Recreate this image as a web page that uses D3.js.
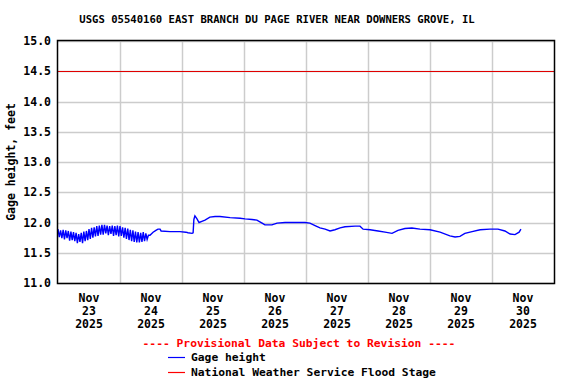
<!DOCTYPE html>
<html>
<head>
<meta charset="utf-8">
<script src="https://cdn.jsdelivr.net/npm/d3@7"></script>
<style>
  body { margin: 0; background: #fff; }
  text { font-family: "DejaVu Sans Mono", monospace; font-weight: bold; fill: #000; }
</style>
</head>
<body>
<div id="chart"></div>
<script>
// hours since Nov 23 2025 00:00, gage height in feet
const gageHours = [
  0, 0.5, 1, 1.5, 2, 2.5, 3, 3.5, 4, 4.5, 5, 5.5, 6, 6.5, 7, 7.5, 8, 8.5, 9, 9.5,
  10, 10.5, 11, 11.5, 12, 12.5, 13, 13.5, 14, 14.5, 15, 15.5, 16, 16.5, 17, 17.5,
  18, 18.5, 19, 19.5, 20, 20.5, 21, 21.5, 22, 22.5, 23, 23.5, 24, 24.5, 25, 25.5,
  26, 26.5, 27, 27.5, 28, 28.5, 29, 29.5, 30, 30.5, 31, 31.5, 32, 32.5, 33, 33.5,
  34, 34.5, 35,
  35.6, 36.8, 37.9, 38.7, 39.5, 39.9, 43.4, 47.2, 49.5, 50.3, 51.9, 52.3, 52.6, 53.0,
  53.8, 54.6, 55.7, 56.9, 58.8, 60.8, 62.7, 66.6, 70.5, 72.4, 75.1, 77.0, 79.0, 80.1,
  82.8, 84.8, 87.9, 91.7, 95.6, 97.5, 99.5, 101.4, 103.4, 105.3, 107.2, 109.2, 111.1,
  115.0, 116.9, 118.1, 120.8, 123.9, 126.6, 129.3, 131.6, 134.3, 137.0, 140.1, 144.0,
  147.9, 151.7, 153.7, 155.6, 157.5, 160.3, 163.4, 167.2, 170.3, 173.0, 175.0, 176.9,
  178.5, 179.2
];
const gageFeet = [
  11.89, 11.76, 11.87, 11.74, 11.88, 11.72, 11.87, 11.74, 11.86, 11.70, 11.85, 11.71,
  11.84, 11.69, 11.83, 11.66, 11.81, 11.68, 11.83, 11.66, 11.85, 11.69, 11.86, 11.71,
  11.89, 11.73, 11.91, 11.75, 11.92, 11.77, 11.94, 11.78, 11.95, 11.80, 11.96, 11.80,
  11.96, 11.82, 11.95, 11.79, 11.94, 11.81, 11.95, 11.78, 11.94, 11.79, 11.95, 11.77,
  11.94, 11.78, 11.92, 11.75, 11.91, 11.73, 11.90, 11.71, 11.88, 11.69, 11.87, 11.68,
  11.85, 11.67, 11.84, 11.67, 11.83, 11.68, 11.84, 11.69, 11.82, 11.72, 11.79,
  11.79, 11.84, 11.87, 11.89, 11.89, 11.86, 11.85, 11.85, 11.84, 11.83, 11.82, 11.83,
  12.05, 12.11, 12.06, 12.00, 12.02, 12.04, 12.09, 12.10, 12.10, 12.08, 12.07, 12.06,
  12.05, 12.04, 11.99, 11.96, 11.96, 11.99, 12.00, 12.00, 12.00, 11.99, 11.95, 11.91,
  11.89, 11.86, 11.88, 11.91, 11.93, 11.94, 11.94, 11.89, 11.88, 11.86, 11.84, 11.82,
  11.87, 11.90, 11.91, 11.89, 11.88, 11.84, 11.78, 11.76, 11.77, 11.82, 11.85, 11.88,
  11.89, 11.89, 11.86, 11.81, 11.80, 11.84, 11.89
];
const floodStage = 14.5;
const yTicks = [11.0, 11.5, 12.0, 12.5, 13.0, 13.5, 14.0, 14.5, 15.0];
const dayLabels = ["23", "24", "25", "26", "27", "28", "29", "30"];
const titleText = "USGS 05540160 EAST BRANCH DU PAGE RIVER NEAR DOWNERS GROVE, IL";

const start = new Date(2025, 10, 23);
const end = new Date(2025, 11, 1);
const data = gageHours.map((h, i) => ({ date: new Date(start.getTime() + h * 3600e3), value: gageFeet[i] }));

const margin = { top: 41, right: 22, bottom: 101, left: 58 };
const width = 576 - margin.left - margin.right;
const height = 384 - margin.top - margin.bottom;

const svg = d3.select("#chart").append("svg")
  .attr("width", 576)
  .attr("height", 384);

const g = svg.append("g")
  .attr("transform", `translate(${margin.left},${margin.top})`);

const x = d3.scaleTime().domain([start, end]).range([0, width]);
const y = d3.scaleLinear().domain([11, 15]).range([height, 0]);

// grid
const days = d3.timeDay.range(d3.timeDay.offset(start, 1), end);
g.selectAll(".vgrid").data(days).enter().append("line")
  .attr("x1", d => Math.round(x(d)) + 0.5).attr("x2", d => Math.round(x(d)) + 0.5)
  .attr("y1", 0).attr("y2", height)
  .attr("stroke", "#cccccc").attr("stroke-width", 1.5);
g.selectAll(".hgrid").data(yTicks).enter().append("line")
  .attr("x1", 0).attr("x2", width)
  .attr("y1", d => Math.round(y(d)) + 0.5).attr("y2", d => Math.round(y(d)) + 0.5)
  .attr("stroke", "#cccccc").attr("stroke-width", 1.5);

// flood stage
g.append("line")
  .attr("x1", 0).attr("x2", width)
  .attr("y1", Math.round(y(floodStage)) + 0.5).attr("y2", Math.round(y(floodStage)) + 0.5)
  .attr("stroke", "#e00000").attr("stroke-width", 1.2);

// gage height line
const line = d3.line().x(d => x(d.date)).y(d => y(d.value));
g.append("path")
  .datum(data)
  .attr("fill", "none")
  .attr("stroke", "#0000ff")
  .attr("stroke-width", 1.4)
  .attr("d", line);

// frame
g.append("rect")
  .attr("x", -0.5).attr("y", -0.5)
  .attr("width", width + 1).attr("height", height + 1)
  .attr("fill", "none").attr("stroke", "#000").attr("stroke-width", 1.5);

// y tick labels
g.selectAll(".ylab").data(yTicks).enter().append("text")
  .attr("x", -7).attr("y", d => y(d) + 4)
  .attr("text-anchor", "end")
  .style("font-size", "11.5px")
  .text(d => d.toFixed(1));

// x labels at noon of each day
const noons = dayLabels.map((_, i) => d3.timeHour.offset(start, 24 * i + 12));
const xl = g.selectAll(".xlab").data(noons).enter().append("text")
  .attr("text-anchor", "middle")
  .style("font-size", "11.5px");
xl.append("tspan").attr("x", d => x(d)).attr("y", height + 19).text("Nov");
xl.append("tspan").attr("x", d => x(d)).attr("y", height + 32).text((d, i) => dayLabels[i]);
xl.append("tspan").attr("x", d => x(d)).attr("y", height + 45).text("2025");

// axis title
svg.append("text")
  .attr("transform", `translate(15,${margin.top + height / 2}) rotate(-90)`)
  .attr("text-anchor", "middle")
  .style("font-size", "11.5px")
  .text("Gage height, feet");

// title
svg.append("text")
  .attr("x", 277).attr("y", 23)
  .attr("text-anchor", "middle")
  .style("font-size", "10.6px")
  .text(titleText);

// legend
svg.append("text")
  .attr("x", 299).attr("y", 347)
  .attr("text-anchor", "middle")
  .style("font-size", "11.3px")
  .style("fill", "#ff0000")
  .text("---- Provisional Data Subject to Revision ----");

const legend = [
  { label: "Gage height", color: "#0000ff", y: 357 },
  { label: "National Weather Service Flood Stage", color: "#ff0000", y: 372 }
];
const li = svg.selectAll(".legend").data(legend).enter().append("g");
li.append("line")
  .attr("x1", 168).attr("x2", 185)
  .attr("y1", d => d.y + 0.5).attr("y2", d => d.y + 0.5)
  .attr("stroke", d => d.color).attr("stroke-width", 1.2);
li.append("text")
  .attr("x", 191).attr("y", d => d.y + 4)
  .style("font-size", "11.3px")
  .text(d => d.label);
</script>
</body>
</html>
